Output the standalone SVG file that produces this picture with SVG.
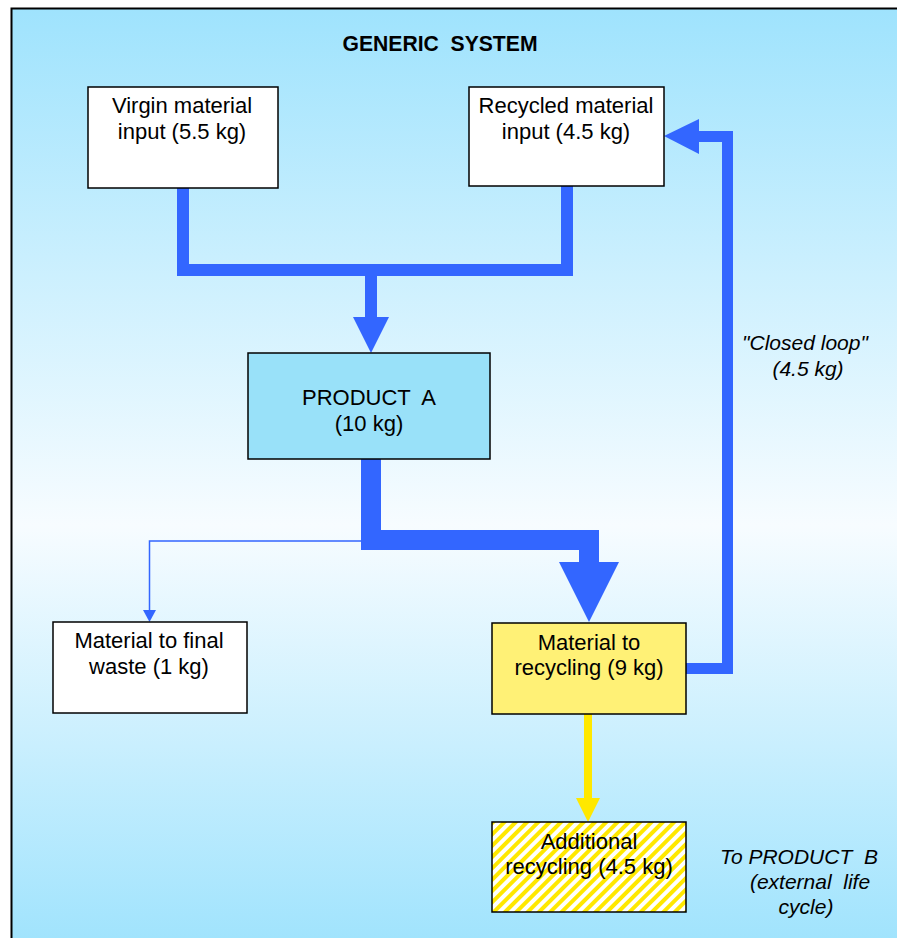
<svg xmlns="http://www.w3.org/2000/svg" width="897" height="938" viewBox="0 0 897 938">
<style>
.t{font-family:"Liberation Sans",Arial,sans-serif;font-size:22px;fill:#000;text-anchor:middle;white-space:pre}
.i{font-style:italic;font-size:21px}
.box{stroke:#000;stroke-width:1.5}
.blue{fill:none;stroke:#3366ff;stroke-linejoin:miter;stroke-linecap:butt}
.bh{fill:#3366ff}
</style>
<defs>
<linearGradient id="bg" x1="0" y1="0" x2="0" y2="1">
<stop offset="0" stop-color="#9fe3fd"/>
<stop offset="0.55" stop-color="#f7fcff"/>
<stop offset="1" stop-color="#9fe3fd"/>
</linearGradient>
<pattern id="hatch" patternUnits="userSpaceOnUse" width="8" height="8" patternTransform="rotate(45)">
<rect width="8" height="8" fill="#ffffff"/>
<rect width="4" height="8" fill="#ffe800"/>
</pattern>
</defs>
<rect width="897" height="938" fill="#ffffff"/>
<rect x="11.5" y="8.5" width="900" height="940" fill="url(#bg)" stroke="#000" stroke-width="2"/>
<text class="t" x="440" y="51" font-weight="bold" font-size="20" textLength="195" lengthAdjust="spacingAndGlyphs">GENERIC  SYSTEM</text>

<g id="connectors">
<path class="blue" d="M183 188 V270 H567 V186" stroke-width="12"/>
<path class="blue" d="M371 270 V318" stroke-width="12"/>
<polygon class="bh" points="353,317 389,317 371,353"/>
<path class="blue" d="M371 459 V540 H589 V563" stroke-width="20"/>
<polygon class="bh" points="559,562 619,562 589,622"/>
<path class="blue" d="M361 541 H149.5 V611" stroke-width="1.5"/>
<polygon class="bh" points="143,610 156,610 149.5,622"/>
<path class="blue" d="M686 668.5 H727.5 V136.5 H699" stroke-width="11"/>
<polygon class="bh" points="699,119 699,154 664,136"/>
<path d="M588 714 V799" stroke="#ffe800" stroke-width="8" fill="none"/>
<polygon fill="#ffe800" points="576,798 600,798 588,822"/>
</g>

<g id="virgin">
<rect class="box" x="88" y="87" width="190" height="101" fill="#ffffff"/>
<text class="t" x="182" y="113">Virgin material</text>
<text class="t" x="182" y="139">input (5.5 kg)</text>
</g>
<g id="recycled">
<rect class="box" x="469" y="87" width="195" height="99" fill="#ffffff"/>
<text class="t" x="566" y="113">Recycled material</text>
<text class="t" x="566" y="139">input (4.5 kg)</text>
</g>
<g id="productA">
<rect class="box" x="248" y="353" width="242" height="106" fill="#99e1f9"/>
<text class="t" x="369" y="405">PRODUCT  A</text>
<text class="t" x="369" y="431">(10 kg)</text>
</g>
<g id="finalWaste">
<rect class="box" x="53" y="622" width="194" height="91" fill="#ffffff"/>
<text class="t" x="149" y="648">Material to final</text>
<text class="t" x="149" y="674">waste (1 kg)</text>
</g>
<g id="toRecycling">
<rect class="box" x="492" y="623" width="194" height="91" fill="#fff176"/>
<text class="t" x="589" y="650">Material to</text>
<text class="t" x="589" y="675">recycling (9 kg)</text>
</g>
<g id="additional">
<rect class="box" x="492" y="822" width="194" height="90" fill="url(#hatch)"/>
<text class="t" x="589" y="849">Additional</text>
<text class="t" x="589" y="874">recycling (4.5 kg)</text>
</g>
<g id="closedLoopLabel">
<text class="t i" x="805" y="350">"Closed loop"</text>
<text class="t i" x="808" y="376">(4.5 kg)</text>
</g>
<g id="productBLabel">
<text class="t i" x="799" y="864">To PRODUCT  B</text>
<text class="t i" x="810" y="889">(external  life</text>
<text class="t i" x="806" y="914">cycle)</text>
</g>
</svg>
